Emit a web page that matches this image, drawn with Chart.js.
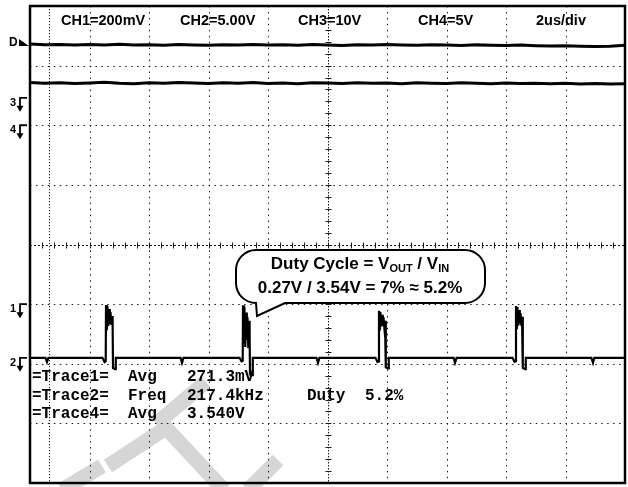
<!DOCTYPE html>
<html>
<head>
<meta charset="utf-8">
<script src="https://cdn.jsdelivr.net/npm/chart.js@4.4.1/dist/chart.umd.min.js"></script>
<style>
  html, body { margin: 0; padding: 0; background: #fff; }
  canvas { display: block; }
</style>
</head>
<body>
<canvas id="scope" width="628" height="487"></canvas>
<script>
// scope screen: 10 x 8 divisions, 2us/div
const timeRange = [0, 20];
const divRange = [-4, 4];

const channelLabels = ['CH1=200mV', 'CH2=5.00V', 'CH3=10V', 'CH4=5V', '2us/div'];

// ground markers (divisions from centre) and V/div
const ch1Gnd = -1.0;
const ch2Gnd = -1.9;
const ch3Gnd = 2.46;
const ch4Gnd = 2.0;
const ch2Scale = 5;
const ch3Scale = 10;
const ch4Scale = 5;

// slow traces, sampled every 0.5us
const sampleTimes = [0, 0.5, 1, 1.5, 2, 2.5, 3, 3.5, 4, 4.5, 5, 5.5, 6, 6.5, 7, 7.5, 8, 8.5, 9, 9.5,
  10, 10.5, 11, 11.5, 12, 12.5, 13, 13.5, 14, 14.5, 15, 15.5, 16, 16.5, 17, 17.5, 18, 18.5, 19, 19.5, 20];
const ch3Volts = [9.02, 8.90, 8.96, 8.84, 8.93, 8.87, 8.99, 8.85, 8.91, 8.82, 8.94, 8.88, 8.80, 8.92, 8.86,
  8.95, 8.84, 8.90, 8.83, 8.93, 8.87, 8.78, 8.91, 8.85, 8.94, 8.86, 8.81, 8.90, 8.84, 8.79, 8.88, 8.83,
  8.77, 8.85, 8.74, 8.68, 8.72, 8.64, 8.60, 8.67, 8.82];
const ch4Volts = [3.58, 3.52, 3.56, 3.50, 3.55, 3.60, 3.53, 3.49, 3.56, 3.52, 3.58, 3.54, 3.50, 3.57, 3.53,
  3.59, 3.51, 3.55, 3.48, 3.56, 3.54, 3.50, 3.57, 3.52, 3.55, 3.49, 3.56, 3.53, 3.51, 3.57, 3.52, 3.48,
  3.55, 3.50, 3.53, 3.47, 3.52, 3.46, 3.50, 3.45, 3.49];

// switch node (CH2)
const ch2Times = [
  0, 0.52, 0.571, 0.62,
  2.437, 2.505, 2.545, 2.555, 2.582, 2.602, 2.632, 2.656, 2.683, 2.706, 2.733, 2.757, 2.777, 2.790, 2.858, 2.884,
  5.06, 5.109, 5.16,
  7.042, 7.110, 7.150, 7.160, 7.187, 7.207, 7.237, 7.261, 7.288, 7.311, 7.338, 7.362, 7.382, 7.395, 7.463, 7.489,
  9.63, 9.681, 9.73,
  11.613, 11.681, 11.721, 11.731, 11.758, 11.778, 11.808, 11.832, 11.859, 11.882, 11.909, 11.933, 11.953, 11.966, 12.034, 12.060,
  14.24, 14.286, 14.34,
  16.218, 16.286, 16.326, 16.336, 16.363, 16.383, 16.413, 16.437, 16.464, 16.487, 16.514, 16.538, 16.558, 16.571, 16.639, 16.665,
  18.87, 18.924, 18.97,
  20
];
const ch2Volts = [
  0, 0, -0.35, 0,
  0, -0.36, -0.28, 4.42, 2.32, 4.34, 2.66, 4.09, 2.83, 3.83, 2.75, 3.50, 3.00, -0.86, -0.95, 0,
  0, -0.42, 0,
  0, -0.30, -0.25, 4.40, 1.20, 4.30, 0.90, 3.80, 1.50, 3.40, 0.80, 3.10, 2.00, -1.40, -1.45, 0,
  0, -0.42, 0,
  0, -0.35, -0.30, 3.95, 2.30, 3.85, 2.60, 3.60, 2.70, 3.40, 2.60, 3.10, 2.80, -0.80, -0.90, 0,
  0, -0.42, 0,
  0, -0.33, -0.28, 4.35, 2.40, 4.25, 2.70, 4.00, 2.85, 3.75, 2.70, 3.45, 2.95, -0.85, -0.95, 0,
  0, -0.42, 0,
  0
];

const readoutRows = [
  ['=Trace1=', 'Avg', '271.3mV'],
  ['=Trace2=', 'Freq', '217.4kHz'],
  ['=Trace4=', 'Avg', '3.540V']
];
const dutyReadout = ['Duty', '5.2%'];

const toPoints = (times, volts, gnd, scale) => times.map((t, i) => ({ x: t, y: gnd + volts[i] / scale }));

const dotLine = (ctx, x1, y1, x2, y2, dash) => {
  ctx.setLineDash(dash);
  ctx.beginPath();
  ctx.moveTo(x1, y1);
  ctx.lineTo(x2, y2);
  ctx.stroke();
};

const groundMarker = (ctx, label, py) => {
  ctx.fillStyle = '#000';
  ctx.strokeStyle = '#000';
  ctx.setLineDash([]);
  ctx.font = 'bold 11px "Liberation Sans"';
  ctx.textAlign = 'left';
  ctx.fillText(label, 10, py + 8);
  ctx.lineWidth = 1.8;
  ctx.beginPath();
  ctx.moveTo(20, py + 9);
  ctx.lineTo(20, py);
  ctx.lineTo(27, py);
  ctx.stroke();
  ctx.beginPath();
  ctx.moveTo(16.5, py + 8);
  ctx.lineTo(23.5, py + 8);
  ctx.lineTo(20, py + 14);
  ctx.closePath();
  ctx.fill();
};

const scopeScreen = {
  id: 'scopeScreen',
  beforeDatasetsDraw(chart) {
    const { ctx, chartArea: a, scales: { x, y } } = chart;
    ctx.save();

    // faint watermark strokes
    ctx.strokeStyle = '#d6d6d6';
    ctx.lineCap = 'butt';
    ctx.lineJoin = 'miter';
    ctx.lineWidth = 15;
    ctx.beginPath();
    ctx.moveTo(108, 466); ctx.lineTo(166, 428); ctx.lineTo(224, 490);
    ctx.moveTo(156, 424); ctx.lineTo(206, 382);
    ctx.moveTo(62, 490); ctx.lineTo(102, 466);
    ctx.moveTo(248, 490); ctx.lineTo(278, 460);
    ctx.stroke();

    // dotted graticule
    ctx.strokeStyle = '#1a1a1a';
    ctx.lineWidth = 1;
    const step = x.getPixelForValue(2) - x.getPixelForValue(0);
    for (let t = 2; t < 20; t += 2) {
      if (t === 10) continue;
      const px = Math.round(x.getPixelForValue(t)) + 0.5;
      dotLine(ctx, px, a.top, px, a.bottom, [1.5, 4.46]);
    }
    for (let d = -3; d <= 3; d++) {
      if (d === 0) continue;
      const py = Math.round(y.getPixelForValue(d)) + 0.5;
      dotLine(ctx, a.left, py, a.right, py, [1.5, step / 10 - 1.5]);
    }
    // trigger position line
    const tx = Math.round(x.getPixelForValue(0.64)) + 0.5;
    dotLine(ctx, tx, a.top, tx, a.bottom, [1.2, 1.8]);

    // centre axes with minor ticks
    const cx = Math.round(x.getPixelForValue(10)) + 0.5;
    const cy = Math.round(y.getPixelForValue(0)) + 0.5;
    dotLine(ctx, cx, a.top, cx, a.bottom, [1.5, 1.5]);
    dotLine(ctx, a.left, cy, a.right, cy, [2, 2]);
    ctx.setLineDash([]);
    ctx.beginPath();
    for (let k = -20; k <= 20; k++) {
      const py = Math.round(y.getPixelForValue(k * 0.2)) + 0.5;
      ctx.moveTo(cx - 3, py); ctx.lineTo(cx + 3, py);
    }
    for (let k = 1; k < 50; k++) {
      const px = Math.round(x.getPixelForValue(k * 0.4)) + 0.5;
      ctx.moveTo(px, cy - 3); ctx.lineTo(px, cy + 3);
    }
    ctx.stroke();
    ctx.restore();
  },
  afterDraw(chart) {
    const { ctx, chartArea: a, scales: { x, y } } = chart;
    ctx.save();

    // screen border
    ctx.strokeStyle = '#000';
    ctx.lineWidth = 2.5;
    ctx.setLineDash([]);
    ctx.strokeRect(a.left, a.top, a.right - a.left, a.bottom - a.top);

    // channel settings row
    ctx.fillStyle = '#000';
    ctx.font = 'bold 14.5px "Liberation Sans"';
    ctx.textAlign = 'left';
    const labelX = [61, 180, 298, 418, 536];
    channelLabels.forEach((s, i) => ctx.fillText(s, labelX[i], 25));

    // left markers
    const dY = y.getPixelForValue(ch3Gnd + ch3Volts[0] / ch3Scale);
    ctx.font = 'bold 12px "Liberation Sans"';
    ctx.fillText('D', 9, dY + 2);
    ctx.beginPath();
    ctx.moveTo(19, dY - 5); ctx.lineTo(19, dY + 2); ctx.lineTo(29, dY + 2);
    ctx.closePath();
    ctx.fill();
    groundMarker(ctx, '3', y.getPixelForValue(ch3Gnd));
    groundMarker(ctx, '4', y.getPixelForValue(ch4Gnd));
    groundMarker(ctx, '1', y.getPixelForValue(ch1Gnd));
    groundMarker(ctx, '2', y.getPixelForValue(ch2Gnd));

    // measurement readout
    ctx.fillStyle = '#000';
    ctx.font = 'bold 16px "Liberation Mono"';
    const colX = [32, 128, 187];
    const rowY = [381, 400, 418];
    readoutRows.forEach((row, r) => row.forEach((s, c) => ctx.fillText(s, colX[c], rowY[r])));
    ctx.fillText(dutyReadout[0], 307, rowY[1]);
    ctx.fillText(dutyReadout[1], 365, rowY[1]);

    // callout bubble
    const L = 236, R = 485, T = 250, B = 303, r = 20;
    ctx.beginPath();
    ctx.moveTo(L + r, T);
    ctx.lineTo(R - r, T);
    ctx.arcTo(R, T, R, T + r, r);
    ctx.lineTo(R, B - r);
    ctx.arcTo(R, B, R - r, B, r);
    ctx.lineTo(285, B);
    ctx.lineTo(257, 316);
    ctx.lineTo(256, B);
    ctx.arcTo(L, B, L, B - r, r);
    ctx.lineTo(L, T + r);
    ctx.arcTo(L, T, L + r, T, r);
    ctx.closePath();
    ctx.fillStyle = '#fff';
    ctx.fill();
    ctx.lineWidth = 2;
    ctx.strokeStyle = '#000';
    ctx.stroke();

    ctx.fillStyle = '#000';
    const big = 'bold 17px "Liberation Sans"';
    const small = 'bold 11px "Liberation Sans"';
    const parts = [['Duty Cycle = V', big, 0], ['OUT', small, 3], [' / V', big, 0], ['IN', small, 3]];
    let w = 0;
    parts.forEach(p => { ctx.font = p[1]; w += ctx.measureText(p[0]).width; });
    let px = 360 - w / 2;
    parts.forEach(p => {
      ctx.font = p[1];
      ctx.fillText(p[0], px, 269 + p[2]);
      px += ctx.measureText(p[0]).width;
    });
    ctx.font = big;
    ctx.textAlign = 'center';
    ctx.fillText('0.27V / 3.54V = 7% \u2248 5.2%', 360, 293);

    ctx.restore();
  }
};

const traceStyle = { borderColor: '#000', pointRadius: 0, tension: 0, fill: false };

new Chart(document.getElementById('scope'), {
  type: 'line',
  data: {
    datasets: [
      { ...traceStyle, data: toPoints(sampleTimes, ch3Volts, ch3Gnd, ch3Scale), borderWidth: 3 },
      { ...traceStyle, data: toPoints(sampleTimes, ch4Volts, ch4Gnd, ch4Scale), borderWidth: 3 },
      { ...traceStyle, data: toPoints(ch2Times, ch2Volts, ch2Gnd, ch2Scale), borderWidth: 2.2 }
    ]
  },
  options: {
    responsive: false,
    animation: false,
    devicePixelRatio: 1,
    layout: { padding: { left: 30, top: 6, right: 3, bottom: 4 } },
    plugins: { legend: { display: false }, tooltip: { enabled: false } },
    scales: {
      x: { type: 'linear', min: timeRange[0], max: timeRange[1], display: false },
      y: { type: 'linear', min: divRange[0], max: divRange[1], display: false }
    }
  },
  plugins: [scopeScreen]
});
</script>
</body>
</html>
